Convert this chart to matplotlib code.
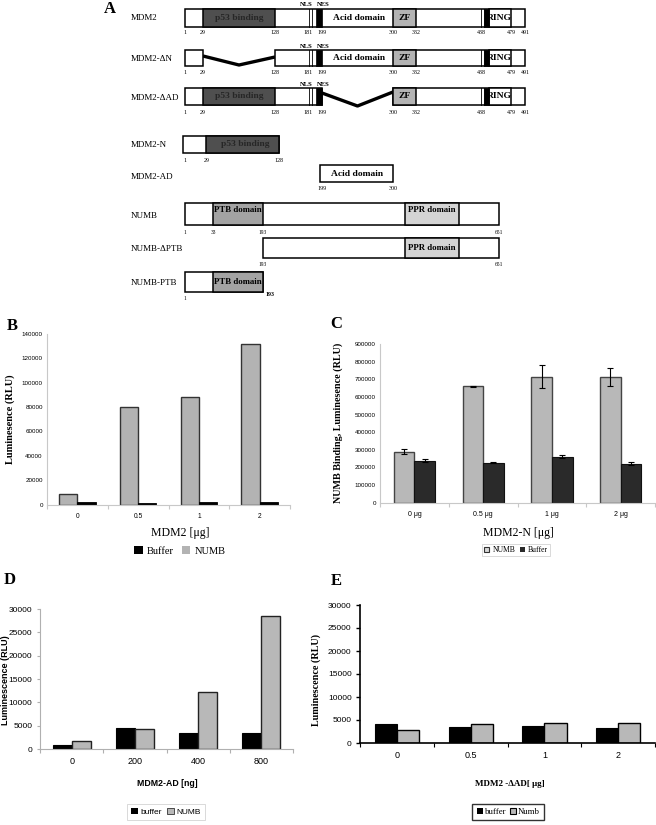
import numpy as np
import matplotlib.pyplot as plt
from matplotlib.patches import Rectangle

SERIF = 'Liberation Serif'
SANS = 'Liberation Sans'

# ---- panel A: domain maps (residue numbers)
mdm2_len = 491
mdm2_p53 = (29, 128)
mdm2_acid = (199, 300)
mdm2_zf = (300, 332)
mdm2_ring = (438, 479)
mdm2_nls = 181
mdm2_ticks = [1, 29, 128, 181, 199, 300, 332, 438, 479, 491]
numb_len = 651
numb_ptb = (33, 193)
numb_ppr = (468, 573)

# ---- panel B
b_doses = ['0', '0.5', '1', '2']
b_buffer = [1800, 1500, 2200, 2200]
b_numb = [8500, 80000, 88000, 132000]

# ---- panel C
c_doses = ['0 μg', '0.5 μg', '1 μg', '2 μg']
c_numb = [290000, 660000, 715000, 712000]
c_numb_err = [16000, 4000, 65000, 52000]
c_buffer = [238000, 226000, 262000, 221000]
c_buffer_err = [10000, 3000, 8000, 10000]

# ---- panel D
d_doses = ['0', '200', '400', '800']
d_buffer = [900, 4500, 3400, 3400]
d_numb = [1700, 4300, 12200, 28500]

# ---- panel E
e_doses = ['0', '0.5', '1', '2']
e_buffer = [4200, 3400, 3600, 3200]
e_numb = [2800, 4200, 4400, 4400]

W, H = 656, 825
fig = plt.figure(figsize=(W / 100, H / 100), dpi=100)
ov = fig.add_axes([0, 0, 1, 1])
ov.set_xlim(0, W)
ov.set_ylim(H, 0)
ov.axis('off')


def mdm2_px(r):
    return np.interp(r, [1, 29, 128, 181, 199, 300, 332, 438, 479, 491],
                     [185, 203, 275, 308, 322, 393, 416, 481, 511, 525])


def numb_px(r):
    return np.interp(r, [1, 33, 193, 651], [185, 213, 263, 499])


def rect(x0, x1, y, h, fc='white', lw=1.1, ec='black', z=2):
    ov.add_patch(Rectangle((x0, y), x1 - x0, h, facecolor=fc, edgecolor=ec, lw=lw, zorder=z))


def bold(x, y, s, size=6.5, color='black'):
    ov.text(x, y, s, ha='center', va='center', family=SERIF, weight='bold',
            size=size, color=color, zorder=5)


def numbers(px, ticks, y):
    for t in ticks:
        ov.text(px(t), y, str(t), ha='center', va='center', family=SERIF, size=4.3, zorder=5)


def mdm2_row(y, h, pieces):
    def has(a, b):
        return any(p0 <= a and b <= p1 for p0, p1 in pieces)
    for p0, p1 in pieces:
        rect(mdm2_px(p0), mdm2_px(p1), y, h)
    if has(*mdm2_p53):
        rect(mdm2_px(mdm2_p53[0]), mdm2_px(mdm2_p53[1]), y, h, fc='#4f4f4f')
        bold((mdm2_px(mdm2_p53[0]) + mdm2_px(mdm2_p53[1])) / 2, y + h / 2, 'p53 binding',
             size=6.8, color='#262626')
    if has(mdm2_nls, mdm2_acid[0]):
        x = mdm2_px(mdm2_nls)
        ov.plot([x + 1, x + 1], [y, y + h], color='black', lw=0.6, zorder=4)
        ov.plot([x + 4, x + 4], [y, y + h], color='black', lw=0.6, zorder=4)
        rect(mdm2_px(mdm2_acid[0]) - 6, mdm2_px(mdm2_acid[0]), y, h, fc='black', lw=0.5, z=4)
        ov.text(x - 1.5, y - 4, 'NLS', ha='center', va='center', family=SERIF,
                weight='bold', size=4.8)
        ov.text(mdm2_px(mdm2_acid[0]) + 1, y - 4, 'NES', ha='center', va='center',
                family=SERIF, weight='bold', size=4.8)
    if has(*mdm2_acid):
        bold((mdm2_px(mdm2_acid[0]) + mdm2_px(mdm2_acid[1])) / 2 + 2, y + h / 2,
             'Acid domain', size=6.8)
    if has(*mdm2_zf):
        rect(mdm2_px(mdm2_zf[0]), mdm2_px(mdm2_zf[1]), y, h, fc='#b3b3b3')
        bold((mdm2_px(mdm2_zf[0]) + mdm2_px(mdm2_zf[1])) / 2, y + h / 2, 'ZF', size=6.8)
    if has(*mdm2_ring):
        x = mdm2_px(mdm2_ring[0])
        ov.plot([x, x], [y, y + h], color='black', lw=0.6, zorder=4)
        ov.plot([x + 2.5, x + 2.5], [y, y + h], color='black', lw=0.6, zorder=4)
        rect(x + 3, x + 7.5, y, h, fc='black', lw=0.5, z=4)
        rect(x + 7.5, mdm2_px(mdm2_ring[1]), y, h, z=3)
        bold((x + 7.5 + mdm2_px(mdm2_ring[1])) / 2, y + h / 2, 'RING', size=6.8)


def connector(xa, ya, xb, yb, ydip):
    ov.plot([xa, (xa + xb) / 2, xb], [ya, ydip, yb], color='black', lw=2.4,
            solid_capstyle='butt', zorder=1)


# row labels
row_labels = ['MDM2', 'MDM2-ΔN', 'MDM2-ΔAD', 'MDM2-N', 'MDM2-AD', 'NUMB', 'NUMB-ΔPTB', 'NUMB-PTB']
row_y = [18, 59, 98, 145, 177, 216, 249, 283]
for lab, yy in zip(row_labels, row_y):
    ov.text(131, yy, lab, ha='left', va='center', family=SERIF, size=6.5)

# MDM2 full length
mdm2_row(9, 18, [(1, mdm2_len)])
numbers(mdm2_px, mdm2_ticks, 33)
# MDM2-dN
mdm2_row(50, 16, [(1, mdm2_p53[0]), (mdm2_p53[1], mdm2_len)])
connector(mdm2_px(mdm2_p53[0]), 56, mdm2_px(mdm2_p53[1]), 57, 65)
numbers(mdm2_px, mdm2_ticks, 72)
# MDM2-dAD
mdm2_row(88, 17, [(1, mdm2_acid[0]), (mdm2_acid[1], mdm2_len)])
connector(mdm2_px(mdm2_acid[0]), 93, mdm2_px(mdm2_acid[1]), 92, 106)
numbers(mdm2_px, mdm2_ticks, 112)
# MDM2-N
rect(mdm2_px(1) - 2, mdm2_px(mdm2_p53[1]) + 4, 136, 17)
rect(mdm2_px(mdm2_p53[0]) + 3, mdm2_px(mdm2_p53[1]) + 4, 136, 17, fc='#4f4f4f')
bold((mdm2_px(mdm2_p53[0]) + mdm2_px(mdm2_p53[1])) / 2 + 6, 144.5, 'p53 binding',
     size=6.8, color='#262626')
for t, xx in zip([1, 29, 128], [mdm2_px(1), mdm2_px(29) + 4, mdm2_px(128) + 4]):
    ov.text(xx, 160, str(t), ha='center', va='center', family=SERIF, size=4.3)
# MDM2-AD
rect(mdm2_px(mdm2_acid[0]) - 2, mdm2_px(mdm2_acid[1]), 165, 17)
bold((mdm2_px(mdm2_acid[0]) + mdm2_px(mdm2_acid[1])) / 2, 173.5, 'Acid domain', size=6.8)
for t in mdm2_acid:
    ov.text(mdm2_px(t), 188, str(t), ha='center', va='center', family=SERIF, size=4.3)

# NUMB full length
rect(numb_px(1), numb_px(numb_len), 203, 22)
rect(numb_px(numb_ptb[0]), numb_px(numb_ptb[1]), 203, 22, fc='#a3a3a3')
rect(numb_px(numb_ppr[0]), numb_px(numb_ppr[1]), 203, 22, fc='#d4d4d4')
bold(238, 210, 'PTB domain', size=6.3)
bold(432, 210, 'PPR domain', size=6.3)
for t in [1, numb_ptb[0], numb_ptb[1], numb_len]:
    ov.text(numb_px(t), 232, str(t), ha='center', va='center', family=SERIF, size=4.0)
# NUMB-dPTB
rect(numb_px(numb_ptb[1]), numb_px(numb_len), 238, 20)
rect(numb_px(numb_ppr[0]), numb_px(numb_ppr[1]), 238, 20, fc='#d4d4d4')
bold(432, 248, 'PPR domain', size=6.3)
for t in [numb_ptb[1], numb_len]:
    ov.text(numb_px(t), 265, str(t), ha='center', va='center', family=SERIF, size=4.0)
# NUMB-PTB
rect(numb_px(1), numb_px(numb_ptb[1]), 272, 20)
rect(numb_px(numb_ptb[0]), numb_px(numb_ptb[1]), 272, 20, fc='#a3a3a3')
bold(238, 282, 'PTB domain', size=6.3)
ov.text(numb_px(1), 299, '1', ha='center', va='center', family=SERIF, size=4.0)
ov.text(numb_px(numb_ptb[1]) + 7, 295, str(numb_ptb[1]), ha='center', va='center',
        family=SERIF, size=4.3, weight='bold')

# panel letters
for s, xx, yy in [('A', 110, 9), ('B', 12, 326), ('C', 336, 324), ('D', 10, 580), ('E', 336, 581)]:
    ov.text(xx, yy, s, ha='center', va='center', family=SERIF, weight='bold', size=12)


def px_axes(x0, x1, ytop, ybot):
    return fig.add_axes([x0 / W, 1 - ybot / H, (x1 - x0) / W, (ybot - ytop) / H])


def style_axes(ax, cats, ymax, ystep, spine_col, tick_size, xtick_size, ytick_len=0):
    ax.set_xlim(-0.5, 3.5)
    ax.set_ylim(0, ymax)
    ax.set_yticks(np.arange(0, ymax + 1, ystep))
    ax.set_xticks(np.arange(4))
    ax.set_xticklabels(cats, family=SANS, size=xtick_size)
    ax.set_xticks(np.arange(-0.5, 4, 1), minor=True)
    for lab in ax.get_yticklabels():
        lab.set_family(SANS)
        lab.set_size(tick_size)
    ax.tick_params(axis='x', which='major', length=0, pad=6)
    ax.tick_params(axis='x', which='minor', length=3, color=spine_col, width=0.8)
    ax.tick_params(axis='y', length=ytick_len, color=spine_col, pad=3)
    for side in ['top', 'right']:
        ax.spines[side].set_visible(False)
    for side in ['left', 'bottom']:
        ax.spines[side].set_color(spine_col)
    ax.set_facecolor('none')


x = np.arange(4)
w = 0.3

# ---- B
axb = px_axes(47, 290, 334, 504.5)
axb.bar(x - w / 2, b_numb, w, color='#b3b3b3', edgecolor='#333333', lw=1.0)
axb.bar(x + w / 2, b_buffer, w, color='black', edgecolor='black', lw=0.6)
style_axes(axb, b_doses, 140000, 20000, '#c8c8c8', 4.5, 4.8, ytick_len=0)
axb.set_ylabel('Luminesence (RLU)', family=SERIF, weight='bold', size=7.5, va='center')
axb.yaxis.set_label_coords(10, 419, transform=ov.transData)
axb.set_xlabel('MDM2 [μg]', family=SERIF, size=8.5, va='center')
axb.xaxis.set_label_coords(180, 533, transform=ov.transData)
hb = [Rectangle((0, 0), 1, 1, fc='black'), Rectangle((0, 0), 1, 1, fc='#b3b3b3')]
fig.legend(hb, ['Buffer', 'NUMB'], loc='center', bbox_to_anchor=(180 / W, 1 - 551 / H),
           ncol=2, frameon=False, prop={'family': SERIF, 'size': 7.5}, handlelength=0.8,
           handleheight=0.8, columnspacing=0.8, handletextpad=0.4)

# ---- C
axc = px_axes(380, 655, 344, 502.7)
axc.bar(x - w / 2, c_numb, w, color='#b8b8b8', edgecolor='#444444', lw=1.0,
        yerr=c_numb_err, capsize=2.5, error_kw={'elinewidth': 0.8, 'capthick': 0.8})
axc.bar(x + w / 2, c_buffer, w, color='#2a2a2a', edgecolor='#111111', lw=0.8,
        yerr=c_buffer_err, capsize=2.5, error_kw={'elinewidth': 0.8, 'capthick': 0.8})
style_axes(axc, c_doses, 900000, 100000, '#c8c8c8', 4.5, 5.0, ytick_len=0)
axc.set_ylabel('NUMB Binding, Luminesence (RLU)', family=SERIF, weight='bold', size=7.3,
               va='center')
axc.yaxis.set_label_coords(338, 423, transform=ov.transData)
axc.set_xlabel('MDM2-N [μg]', family=SERIF, size=8.5, va='center')
axc.xaxis.set_label_coords(518, 533, transform=ov.transData)
hc = [Rectangle((0, 0), 1, 1, fc='#d8d8d8', ec='#333333', lw=0.8),
      Rectangle((0, 0), 1, 1, fc='#2a2a2a')]
legc = fig.legend(hc, ['NUMB', 'Buffer'], loc='center', bbox_to_anchor=(516 / W, 1 - 550 / H),
                  ncol=2, frameon=True, fancybox=False, prop={'family': SERIF, 'size': 5.5},
                  handlelength=0.7, handleheight=0.7, columnspacing=0.6, handletextpad=0.4,
                  borderpad=0.25)
legc.get_frame().set_edgecolor('#c8c8c8')
legc.get_frame().set_linewidth(0.6)

# ---- D
axd = px_axes(40, 293, 609, 749)
axd.bar(x - w / 2, d_buffer, w, color='black', edgecolor='black', lw=0.8)
axd.bar(x + w / 2, d_numb, w, color='#b8b8b8', edgecolor='#222222', lw=1.0)
style_axes(axd, d_doses, 30000, 5000, '#b0b0b0', 6.0, 6.5, ytick_len=2.5)
axd.set_ylabel('Luminescence (RLU)', family=SANS, weight='bold', size=6.5, va='center')
axd.yaxis.set_label_coords(6, 680, transform=ov.transData)
axd.set_xlabel('MDM2-AD [ng]', family=SANS, weight='bold', size=6.3, va='center')
axd.xaxis.set_label_coords(167, 784, transform=ov.transData)
hd = [Rectangle((0, 0), 1, 1, fc='black'), Rectangle((0, 0), 1, 1, fc='#b8b8b8', ec='#333333', lw=0.6)]
legd = fig.legend(hd, ['buffer', 'NUMB'], loc='center', bbox_to_anchor=(166 / W, 1 - 812 / H),
                  ncol=2, frameon=True, fancybox=False, prop={'family': SANS, 'size': 6.0},
                  handlelength=0.8, handleheight=0.8, columnspacing=0.7, handletextpad=0.3,
                  borderpad=0.5)
legd.get_frame().set_edgecolor('#c8c8c8')
legd.get_frame().set_linewidth(0.6)

# ---- E
axe = px_axes(360, 655, 605, 743)
axe.bar(x - w / 2, e_buffer, w, color='black', edgecolor='black', lw=0.8)
axe.bar(x + w / 2, e_numb, w, color='#b8b8b8', edgecolor='black', lw=1.0)
style_axes(axe, e_doses, 30000, 5000, 'black', 6.0, 6.5, ytick_len=3)
axe.spines['left'].set_linewidth(1.2)
axe.spines['bottom'].set_linewidth(1.2)
axe.tick_params(axis='y', width=1.0)
axe.set_ylabel('Luminescence (RLU)', family=SERIF, weight='bold', size=7.3, va='center')
axe.yaxis.set_label_coords(316, 680, transform=ov.transData)
axe.set_xlabel('MDM2 -ΔAD[ μg]', family=SERIF, weight='bold', size=6.5, va='center')
axe.xaxis.set_label_coords(510, 784, transform=ov.transData)
he = [Rectangle((0, 0), 1, 1, fc='black'), Rectangle((0, 0), 1, 1, fc='#b8b8b8', ec='black', lw=0.8)]
lege = fig.legend(he, ['buffer', 'Numb'], loc='center', bbox_to_anchor=(508 / W, 1 - 812 / H),
                  ncol=2, frameon=True, fancybox=False, prop={'family': SERIF, 'size': 6.3},
                  handlelength=0.7, handleheight=0.7, columnspacing=0.4, handletextpad=0.2,
                  borderpad=0.5)
lege.get_frame().set_edgecolor('black')
lege.get_frame().set_linewidth(1.0)

fig.savefig('out.png', dpi=100)
